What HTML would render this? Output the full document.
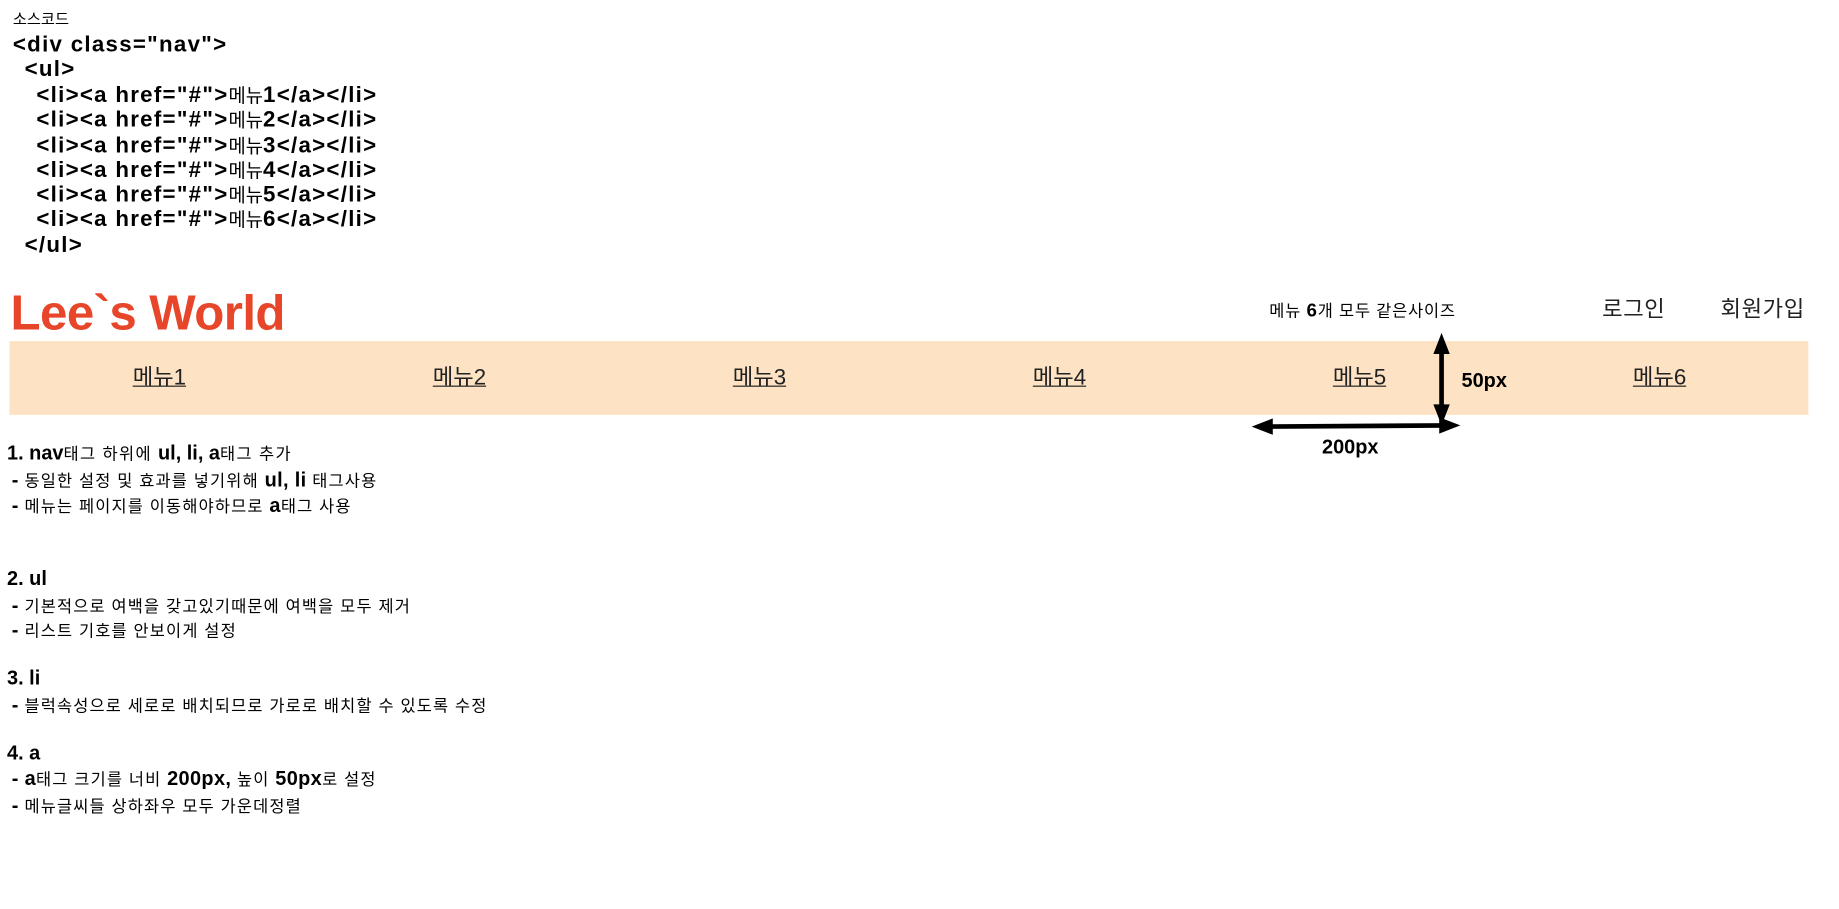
<!DOCTYPE html>
<html><head><meta charset="utf-8">
<style>
html,body{margin:0;padding:0;background:#fff;width:1839px;height:909px;overflow:hidden}
#wrap{position:absolute;left:0;top:0;width:1569px;height:776px;transform:scale(1.172);transform-origin:0 0;font-family:"Liberation Sans","Noto Sans CJK KR",sans-serif;color:#000}
.a{position:absolute;white-space:pre;line-height:1}
.code{font-weight:bold;font-size:19px;letter-spacing:1.1px}
.code .k{font-weight:normal;font-size:16px;letter-spacing:0}
.nav{position:absolute;left:8px;top:291px;width:1535px;height:63px;background:#fde3c3}
.m{position:absolute;top:0;height:63px;line-height:63px;width:256px;text-align:center;font-size:19px;color:#222;text-decoration:underline}
.h{font-size:17px;font-weight:bold}
.h span{font-weight:normal;font-size:14px;letter-spacing:1.2px}
.s{font-size:14px;letter-spacing:1px}
.s b{font-size:17px;letter-spacing:0.3px}
</style></head><body>
<div id="wrap">
<div class="a" style="left:11px;top:10px;font-size:13px">소스코드</div>
<div class="a code" style="left:11px;top:29px">&lt;div class="nav"&gt;</div>
<div class="a code" style="left:21px;top:50px">&lt;ul&gt;</div>
<div class="a code" style="left:31px;top:72px">&lt;li&gt;&lt;a href="#"&gt;<span class="k">메뉴</span>1&lt;/a&gt;&lt;/li&gt;</div>
<div class="a code" style="left:31px;top:93px">&lt;li&gt;&lt;a href="#"&gt;<span class="k">메뉴</span>2&lt;/a&gt;&lt;/li&gt;</div>
<div class="a code" style="left:31px;top:115px">&lt;li&gt;&lt;a href="#"&gt;<span class="k">메뉴</span>3&lt;/a&gt;&lt;/li&gt;</div>
<div class="a code" style="left:31px;top:136px">&lt;li&gt;&lt;a href="#"&gt;<span class="k">메뉴</span>4&lt;/a&gt;&lt;/li&gt;</div>
<div class="a code" style="left:31px;top:157px">&lt;li&gt;&lt;a href="#"&gt;<span class="k">메뉴</span>5&lt;/a&gt;&lt;/li&gt;</div>
<div class="a code" style="left:31px;top:178px">&lt;li&gt;&lt;a href="#"&gt;<span class="k">메뉴</span>6&lt;/a&gt;&lt;/li&gt;</div>
<div class="a code" style="left:21px;top:200px">&lt;/ul&gt;</div>

<div class="a" style="left:9px;top:246px;font-size:42px;font-weight:bold;color:#e8462a;letter-spacing:-0.5px">Lee`s World</div>
<div class="a" style="left:1083px;top:258px;font-size:14px;letter-spacing:0.7px">메뉴 <b style="font-size:16px">6</b>개 모두 같은사이즈</div>
<div class="a" style="left:1367px;top:255px;font-size:19px;color:#222;letter-spacing:0.5px">로그인</div>
<div class="a" style="left:1468px;top:255px;font-size:19px;color:#222;letter-spacing:0.5px">회원가입</div>

<div class="nav">
<div class="m" style="left:0">메뉴1</div>
<div class="m" style="left:256px">메뉴2</div>
<div class="m" style="left:512px">메뉴3</div>
<div class="m" style="left:768px">메뉴4</div>
<div class="m" style="left:1024px">메뉴5</div>
<div class="m" style="left:1280px">메뉴6</div>
</div>

<svg style="position:absolute;left:0;top:0" width="1569" height="776">
<g>
<line x1="1230" y1="298" x2="1230" y2="350" stroke="#000" stroke-width="4"/>
<polygon points="1230,284 1223,302 1237,302" fill="#000"/>
<polygon points="1230,363 1223,345 1237,345" fill="#000"/>
</g>
<g>
<line x1="1080" y1="364" x2="1234" y2="363" stroke="#000" stroke-width="4"/>
<polygon points="1068,364 1086,357 1086,371" fill="#000"/>
<polygon points="1246,363 1228,356 1228,370" fill="#000"/>
</g>
</svg>
<div class="a" style="left:1247px;top:316px;font-size:17px;font-weight:bold">50px</div>
<div class="a" style="left:1128px;top:373px;font-size:17px;font-weight:bold">200px</div>

<div class="a h" style="left:6px;top:378px">1. nav<span>태그 하위에 </span>ul, li, a<span>태그 추가</span></div>
<div class="a s" style="left:10px;top:401px"><b>-</b> 동일한 설정 및 효과를 넣기위해 <b>ul, li</b> 태그사용</div>
<div class="a s" style="left:10px;top:423px"><b>-</b> 메뉴는 페이지를 이동해야하므로 <b>a</b>태그 사용</div>

<div class="a h" style="left:6px;top:485px">2. ul</div>
<div class="a s" style="left:10px;top:508px"><b>-</b> 기본적으로 여백을 갖고있기때문에 여백을 모두 제거</div>
<div class="a s" style="left:10px;top:529px"><b>-</b> 리스트 기호를 안보이게 설정</div>

<div class="a h" style="left:6px;top:570px">3. li</div>
<div class="a s" style="left:10px;top:593px"><b>-</b> 블럭속성으로 세로로 배치되므로 가로로 배치할 수 있도록 수정</div>

<div class="a h" style="left:6px;top:634px">4. a</div>
<div class="a s" style="left:10px;top:656px"><b>- a</b>태그 크기를 너비 <b>200px,</b> 높이 <b>50px</b>로 설정</div>
<div class="a s" style="left:10px;top:679px"><b>-</b> 메뉴글씨들 상하좌우 모두 가운데정렬</div>
</div>
</body></html>
